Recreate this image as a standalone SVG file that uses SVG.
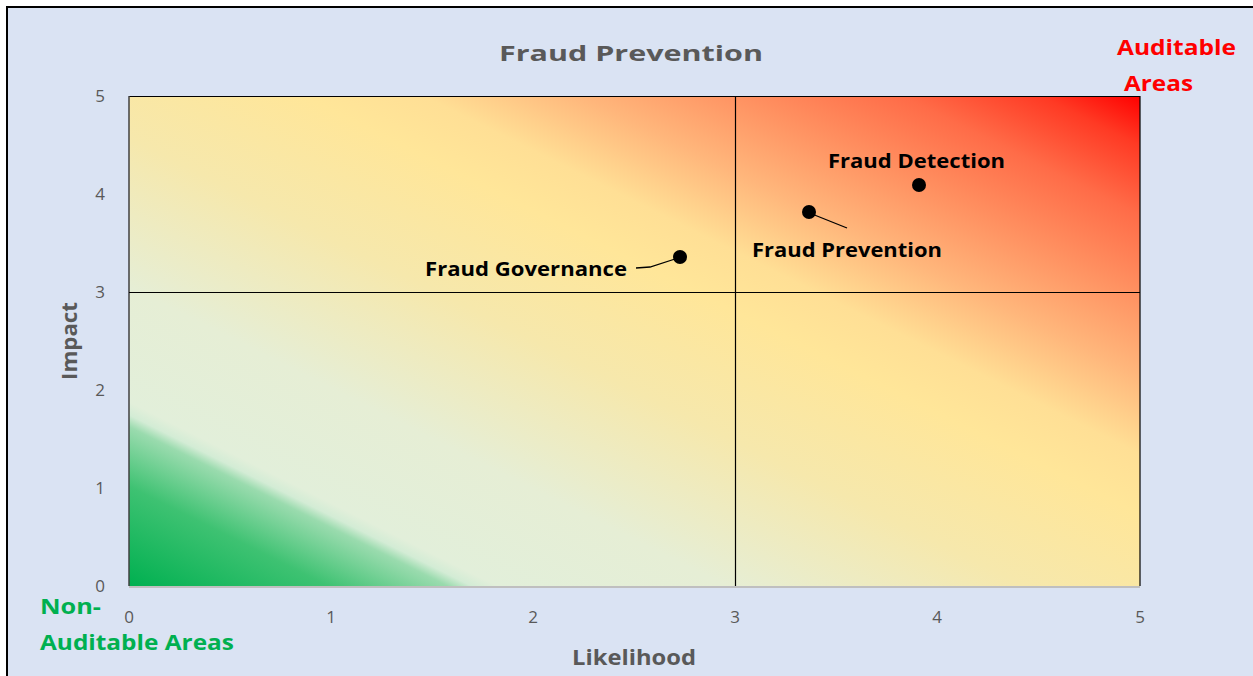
<svg xmlns="http://www.w3.org/2000/svg" width="1253" height="676" viewBox="0 0 1253 676">
<defs>
<linearGradient id="heat" gradientUnits="userSpaceOnUse" x1="129" y1="586" x2="527.2" y2="-210.4">
<stop offset="0" stop-color="#00B050"/>
<stop offset="0.1" stop-color="#3EC272"/>
<stop offset="0.16" stop-color="#9ADBAE"/>
<stop offset="0.172" stop-color="#D3ECD5"/>
<stop offset="0.185" stop-color="#E2EFDA"/>
<stop offset="0.3" stop-color="#E6EED5"/>
<stop offset="0.45" stop-color="#F6E8AC"/>
<stop offset="0.58" stop-color="#FFE699"/>
<stop offset="0.64" stop-color="#FFDF95"/>
<stop offset="0.72" stop-color="#FFB67B"/>
<stop offset="0.8" stop-color="#FF9161"/>
<stop offset="0.88" stop-color="#FF6C48"/>
<stop offset="0.95" stop-color="#FF3A24"/>
<stop offset="1" stop-color="#FF0000"/>
</linearGradient>
<style>
.tick{font-family:"Open Sans","Liberation Sans",sans-serif;font-size:17px;fill:#595959;text-anchor:middle}
.axis{font-family:"Open Sans","Liberation Sans",sans-serif;font-size:21px;font-weight:bold;fill:#595959;text-anchor:middle}
.lbl{font-family:"Open Sans","Liberation Sans",sans-serif;font-size:19px;font-weight:bold;fill:#000}
.zone{font-family:"Open Sans","Liberation Sans",sans-serif;font-size:22px;font-weight:bold}
.grid{stroke:#000;stroke-width:1.2}
.dot{fill:#000}
.lead{stroke:#000;stroke-width:1.3;fill:none}
</style>
</defs>
<rect x="0" y="0" width="1253" height="676" fill="#FFFFFF"/>
<rect x="7" y="7" width="1250" height="675" fill="#DAE3F3" stroke="#000" stroke-width="2"/>
<g id="plot">
<rect x="129" y="96" width="1011" height="490" fill="url(#heat)"/>
<line x1="129" y1="96.5" x2="1140" y2="96.5" class="grid"/>
<line x1="1140" y1="96" x2="1140" y2="586" class="grid"/>
<line x1="129" y1="96" x2="129" y2="586" stroke="#404040" stroke-width="1.5"/>
<line x1="129" y1="587" x2="1140" y2="587" stroke="#BFBFBF" stroke-width="2"/>
<line x1="735.5" y1="96" x2="735.5" y2="586" class="grid"/>
<line x1="129" y1="292.5" x2="1140" y2="292.5" class="grid"/>
</g>
<g id="ticks">
<text class="tick" x="100" y="102">5</text>
<text class="tick" x="100" y="200">4</text>
<text class="tick" x="100" y="298">3</text>
<text class="tick" x="100" y="396">2</text>
<text class="tick" x="100" y="494">1</text>
<text class="tick" x="100" y="592">0</text>
<text class="tick" x="129" y="623">0</text>
<text class="tick" x="331" y="623">1</text>
<text class="tick" x="533" y="623">2</text>
<text class="tick" x="735" y="623">3</text>
<text class="tick" x="937" y="623">4</text>
<text class="tick" x="1140" y="623">5</text>
</g>
<g id="title"><text class="axis" x="631" y="61" font-size="27" textLength="264" lengthAdjust="spacingAndGlyphs">Fraud Prevention</text></g>
<g id="ylabel"><text class="axis" transform="translate(77,341) rotate(-90)" textLength="78" lengthAdjust="spacingAndGlyphs">Impact</text></g>
<g id="xlabel"><text class="axis" x="634" y="665" textLength="124" lengthAdjust="spacingAndGlyphs">Likelihood</text></g>
<g id="auditable">
<text class="zone" x="1117" y="55" fill="#FF0000" textLength="119" lengthAdjust="spacingAndGlyphs">Auditable</text>
<text class="zone" x="1124" y="91" fill="#FF0000" textLength="69" lengthAdjust="spacingAndGlyphs">Areas</text>
</g>
<g id="non-auditable">
<text class="zone" x="40" y="614" fill="#00B050" textLength="61" lengthAdjust="spacingAndGlyphs">Non-</text>
<text class="zone" x="40" y="650" fill="#00B050" textLength="194" lengthAdjust="spacingAndGlyphs">Auditable Areas</text>
</g>
<g id="connectors">
<polyline class="lead" points="636,268 650,267 675,259"/>
<polyline class="lead" points="812,214 847,228"/>
</g>
<g id="fraud-governance">
<circle class="dot" cx="680" cy="257" r="7"/>
<text class="lbl" x="425" y="276" textLength="202" lengthAdjust="spacingAndGlyphs">Fraud Governance</text>
</g>
<g id="fraud-prevention">
<circle class="dot" cx="809" cy="212" r="7"/>
<text class="lbl" x="752" y="257" textLength="190" lengthAdjust="spacingAndGlyphs">Fraud Prevention</text>
</g>
<g id="fraud-detection">
<circle class="dot" cx="919" cy="185" r="7"/>
<text class="lbl" x="828" y="168" textLength="177" lengthAdjust="spacingAndGlyphs">Fraud Detection</text>
</g>
</svg>
